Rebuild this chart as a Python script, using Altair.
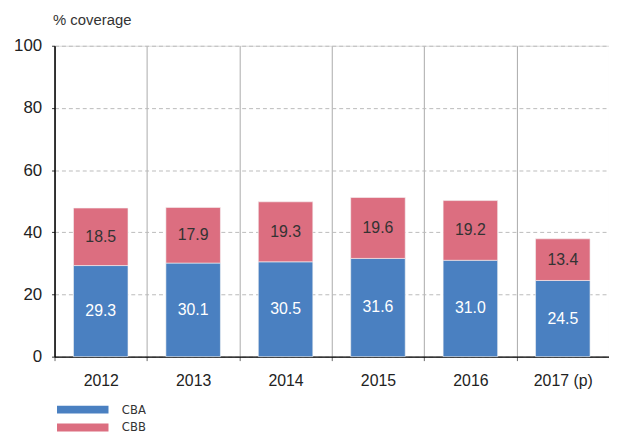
import altair as alt
import pandas as pd

years = ["2012", "2013", "2014", "2015", "2016", "2017 (p)"]
cba = [29.3, 30.1, 30.5, 31.6, 31.0, 24.5]
cbb = [18.5, 17.9, 19.3, 19.6, 19.2, 13.4]
series = ["CBA", "CBB"]
colors = ["#4A80C1", "#DC6E80"]
y_ticks = [0, 20, 40, 60, 80, 100]

rows = []
for i, y in enumerate(years):
    rows.append({"year": y, "series": "CBA", "ord": 0, "value": cba[i], "label": f"{cba[i]:.1f}"})
    rows.append({"year": y, "series": "CBB", "ord": 1, "value": cbb[i], "label": f"{cbb[i]:.1f}"})
df = pd.DataFrame(rows)

FONT = "Liberation Sans"

base = alt.Chart(df).transform_stack(
    stack="value", groupby=["year"], as_=["y0", "y1"], sort=[alt.SortField("ord")]
).transform_calculate(mid="(datum.y0 + datum.y1) / 2")

x_enc = alt.X(
    "year:N",
    sort=years,
    scale=alt.Scale(paddingInner=0, paddingOuter=0),
    axis=alt.Axis(
        title=None, labelAngle=0, labelFontSize=16, labelColor="#222", labelFont=FONT,
        labelPadding=12, domainColor="#000", domainWidth=1.2,
        tickColor="#666", tickSize=4, tickBand="extent",
        grid=True, gridColor="#AAAAAA", gridWidth=1,
    ),
)

bars = base.mark_bar(width={"band": 0.59}, stroke="#f4f4f4", strokeWidth=0.6).encode(
    x=x_enc,
    y=alt.Y(
        "y1:Q",
        scale=alt.Scale(domain=[0, 100], nice=False),
        axis=alt.Axis(
            values=y_ticks, title="% coverage", titleAngle=0, titleAlign="left",
            titleBaseline="alphabetic", titleX=-2, titleY=-21, titleFontSize=15,
            titleFontWeight="normal", titleColor="#333", titleFont=FONT,
            labelFontSize=17, labelColor="#222", labelFont=FONT, labelPadding=10,
            domainColor="#000", domainWidth=1.5, tickColor="#333", tickSize=3,
            grid=True, gridColor="#BBBBBB", gridDash=[4, 3], gridWidth=1,
        ),
    ),
    y2="y0:Q",
    color=alt.Color(
        "series:N",
        scale=alt.Scale(domain=series, range=colors),
        legend=alt.Legend(
            title=None, orient="none", legendX=0, legendY=361, direction="vertical",
            symbolType="M-1,-1 L12,-1 L12,1 L-1,1 Z", symbolSize=64,
            symbolStrokeWidth=0, labelOffset=55, labelFontSize=13, labelColor="#333",
            labelFont="DejaVu Sans Condensed", rowPadding=4,
        ),
    ),
    order=alt.Order("ord:Q"),
)

texts = base.mark_text(fontSize=16, font=FONT, baseline="middle").encode(
    x=alt.X("year:N", sort=years),
    y=alt.Y("mid:Q"),
    text="label:N",
    fill=alt.condition(alt.datum.series == "CBA", alt.value("white"), alt.value("#333")),
)

chart = alt.layer(bars, texts).properties(
    width=560,
    height=314,
    padding={"left": 47, "top": 36, "right": 0, "bottom": 77},
    autosize=alt.AutoSizeParams(type="none"),
).configure_view(stroke=None).configure(background="white")

chart.save("out.html", embed_options={"renderer": "svg", "actions": False})
